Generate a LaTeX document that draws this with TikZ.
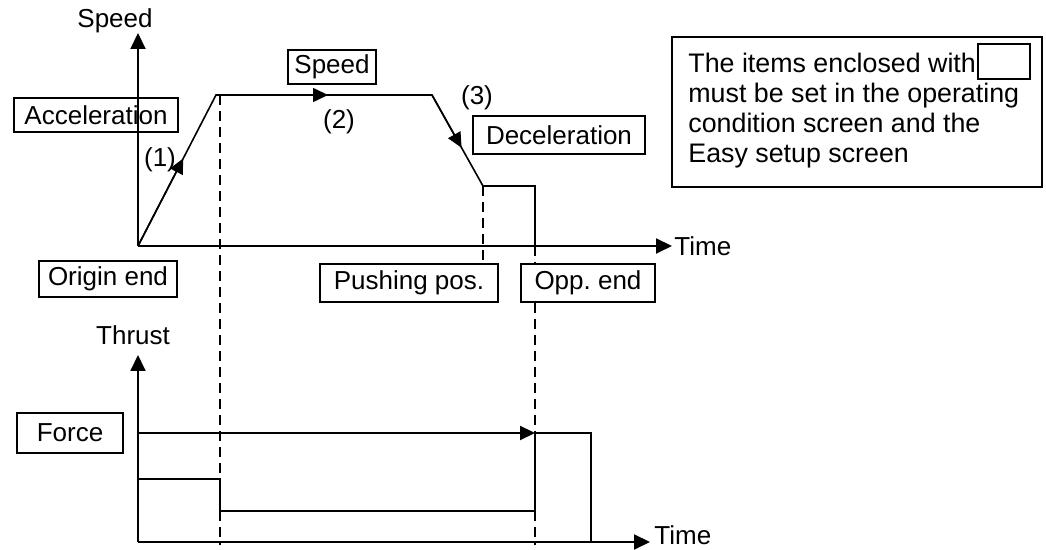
\documentclass[tikz,border=0pt]{standalone}
\usepackage{fontspec}
\setmainfont{Liberation Sans}
\usetikzlibrary{arrows.meta,calc}

\begin{document}
\begin{tikzpicture}[x=0.5pt, y=-0.5pt,
  every node/.style={font=\fontsize{13pt}{15pt}\selectfont},
  item/.style={rectangle, draw, line width=1pt, minimum height=18pt,
               inner sep=0pt, align=center},
  axis/.style={line width=1pt, -{Triangle[length=8pt,width=7.5pt]}},
  curve/.style={line width=0.8pt},
  thrust/.style={line width=1.1pt},
  guide/.style={line width=0.6pt, dash pattern=on 5pt off 3pt},
  tip/.style={-{Triangle[length=7.5pt,width=7pt]}}
]
\useasboundingbox (0,0) rectangle (1046,550);

% speed profile
\coordinate (o1) at (138,246);
\coordinate (s1) at (216,95);
\coordinate (s2) at (432,95);
\coordinate (s3) at (483,186);
\coordinate (s4) at (535,186);
\coordinate (s5) at (535,246);

\draw[axis] (o1) -- (138,33) coordinate (vtop1);
\draw[axis] (o1) -- (672,246) coordinate (htip1);
\draw[curve] (o1) -- (s1) -- (s2) -- (s3) -- (s4) -- (s5);
\draw[curve,tip] (o1) -- ($(o1)!0.58!(s1)$);
\draw[curve,tip] (s1) -- (328,95);
\draw[curve,tip] (s2) -- ($(s2)!0.58!(s3)$);

\node[anchor=base] (vlab1) at (115,28) {Speed};
\node[anchor=west, inner sep=1pt] (hlab1) at (htip1) {Time};
\node (n1) at (160,160) {(1)};
\node (n2) at (339,122) {(2)};
\node (n3) at (477,98)  {(3)};

\node[item, minimum width=82pt, minimum height=17pt] (accel) at (96,115) {Acceleration};
\node[item, minimum width=44pt, minimum height=17pt] (speed) at (332,67) {Speed};
\node[item, minimum width=86pt, minimum height=19pt] (decel) at (559,135) {Deceleration};
\node[item, minimum width=69pt] (origin) at (108,279) {Origin end};
\node[item, minimum width=89pt, minimum height=19pt] (push) at (409,283) {Pushing pos.};
\node[item, minimum width=67pt, minimum height=19pt] (opp)  at (588,283) {Opp.\ end};

% note
\node[rectangle, draw, line width=1pt, minimum width=185pt, minimum height=75pt]
  (note) at (857,112) {};
\node[anchor=north west, inner sep=0pt, align=left,
      font=\fontsize{13.4pt}{15pt}\selectfont] (notetext) at (688,53)
  {The items enclosed with\\must be set in the operating\\condition screen and the\\Easy setup screen};
\node[rectangle, draw, line width=1pt, minimum width=26pt, minimum height=17.5pt]
  (keybox) at (1004,62) {};

% thrust profile
\coordinate (o2) at (138,542);
\coordinate (f1) at (138,433);
\coordinate (f2) at (535,433);
\coordinate (f3) at (591,433);
\coordinate (f4) at (591,542);
\coordinate (p1) at (138,479);
\coordinate (p2) at (220,479);
\coordinate (p3) at (220,511);
\coordinate (p4) at (535,511);

\draw[axis] (o2) -- (138,355) coordinate (vtop2);
\draw[axis] (o2) -- (650,542) coordinate (htip2);
\draw[thrust,tip] (f1) -- (f2);
\draw[thrust] (f2) -- (f3) -- (f4);
\draw[thrust] (p1) -- (p2) -- (p3) -- (p4) -- (f2);

\node[anchor=base] (vlab2) at (133,345) {Thrust};
\node[anchor=base west, inner sep=1pt] (hlab2) at (652,545) {Time};
\node[item, minimum width=53pt, minimum height=20pt] (force) at (70,433) {Force};

% guide lines
\draw[guide] (s1 -| 220,0) -- (220,545);
\draw[guide] (s3) -- (s3 |- push.north);
\draw[guide] (s5) -- (s5 |- opp.north);
\draw[guide] (s5 |- opp.south) -- (535,545);
\end{tikzpicture}
\end{document}
